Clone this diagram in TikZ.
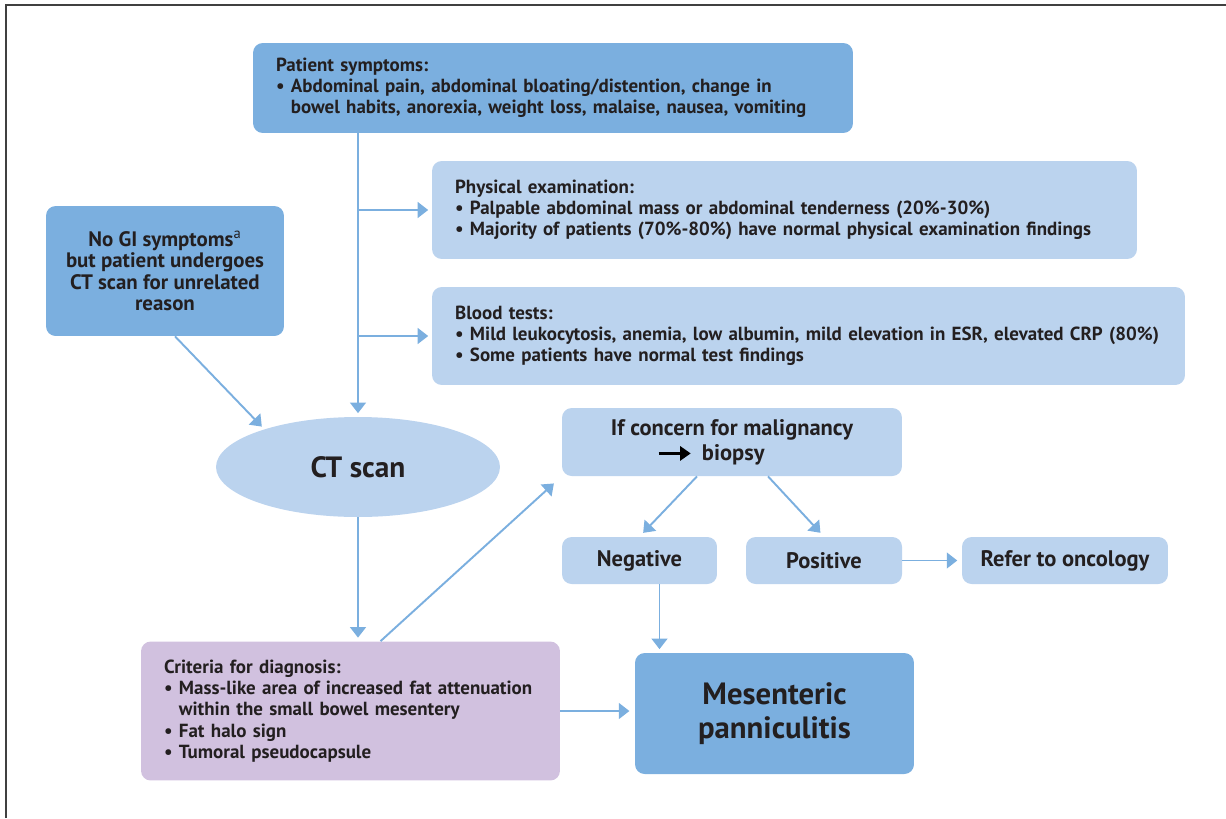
\documentclass[tikz,border=0pt]{standalone}
\usepackage{fontspec}
\setmainfont{PT Sans}
\usepackage{xcolor}
\definecolor{colMid}{HTML}{7BAFDF}
\definecolor{colLight}{HTML}{BBD3EE}
\definecolor{colCrit}{HTML}{D1C1DF}
\definecolor{colArr}{HTML}{7BAFDF}
\definecolor{colText}{HTML}{231F20}
\definecolor{colFrame}{HTML}{404040}
\usepackage{tikz}
\usetikzlibrary{arrows.meta, positioning, calc, shapes.geometric}
\newcommand{\bodyfont}{\bfseries\fontsize{10.8}{12.1}\selectfont}
\newcommand{\hang}{\hphantom{•\ }}
\tikzset{
	listbox/.style={rounded corners=5.5pt, fill=#1, align=left, inner xsep=0.46cm, inner ysep=0pt, font=\bodyfont, text=colText},
	centerbox/.style={rounded corners=5.5pt, fill=#1, align=center, inner sep=0pt, font=\bfseries\fontsize{12.8}{14.2}\selectfont, text=colText},
	flowarr/.style={-{Triangle[length=6pt, width=9pt]}, line width=1.1pt, colArr},
}

\begin{document}
\begin{tikzpicture}[x=0.02cm, y=-0.02cm]
	\useasboundingbox (0,0) rectangle (1226,818);
	% Frame
	\draw[colFrame, line width=1pt] (6,818) -- (6,5) -- (1226,5);

	% Patient symptoms
	\node[listbox=colMid, text width=11.08cm, minimum height=1.8cm] (sym) at (553,88)
		{Patient symptoms:\\
		• Abdominal pain, abdominal bloating/distention, change in\\
		\hang bowel habits, anorexia, weight loss, malaise, nausea, vomiting};

	% Examination and blood tests
	\node[listbox=colLight, text width=13.18cm, minimum height=1.96cm] (phys) at (784.5,210)
		{Physical examination:\\
		• Palpable abdominal mass or abdominal tenderness (20\%-30\%)\\
		• Majority of patients (70\%-80\%) have normal physical examination findings};
	\node[listbox=colLight, text width=14.14cm, minimum height=1.96cm] (blood) at (808.5,336)
		{Blood tests:\\
		• Mild leukocytosis, anemia, low albumin, mild elevation in ESR, elevated CRP (80\%)\\
		• Some patients have normal test findings};

	% Incidental finding
	\node[centerbox=colMid, minimum width=4.76cm, minimum height=2.6cm,
		font=\bfseries\fontsize{11.9}{12.2}\selectfont] (nogi) at (165,271)
		{No GI symptoms\textsuperscript{\mdseries a}\\but patient undergoes\\CT scan for unrelated\\reason};

	% CT scan
	\node[ellipse, fill=colLight, minimum width=5.68cm, minimum height=2cm, inner sep=0pt,
		font=\bfseries\fontsize{16.7}{19}\selectfont, text=colText] (ct) at (358,467) {CT scan};

	% Criteria for diagnosis
	\node[listbox=colCrit, text width=7.46cm, minimum height=2.78cm] (crit) at (350.5,711)
		{Criteria for diagnosis:\\
		• Mass-like area of increased fat attenuation\\
		\hang within the small bowel mesentery\\
		• Fat halo sign\\
		• Tumoral pseudocapsule};

	% Biopsy branch
	\node[centerbox=colLight, minimum width=6.8cm, minimum height=1.36cm] (mal) at (732,442)
		{If concern for malignancy\\
		\tikz[baseline=-0.6ex]\draw[black, line width=1.4pt, -{Triangle[length=6pt, width=8pt]}] (0,0) -- (0.64cm,0);\hspace{0.2cm}biopsy\hspace*{0.84cm}};
	\node[centerbox=colLight, minimum width=3.1cm, minimum height=0.94cm] (neg) at (639.5,560.5) {Negative};
	\node[centerbox=colLight, minimum width=3.12cm, minimum height=0.94cm] (pos) at (824,560.5) {Positive};
	\node[centerbox=colLight, minimum width=4.12cm, minimum height=0.94cm] (onc) at (1065,560.5) {Refer to oncology};

	% Diagnosis
	\node[centerbox=colMid, minimum width=5.58cm, minimum height=2.42cm,
		font=\bfseries\fontsize{17.5}{19.5}\selectfont] (mes) at (774.5,713.5) {Mesenteric\\panniculitis};

	% Connectors
	\draw[flowarr, shorten >=2pt] (ct.north |- sym.south) -- (ct.north);
	\draw[flowarr, shorten >=2pt] (ct.north |- phys.west) -- (phys.west);
	\draw[flowarr, shorten >=2pt] (ct.north |- blood.west) -- (blood.west);
	\draw[flowarr, shorten >=2pt] ([xshift=0.2cm]nogi.south) -- (ct.158);
	\draw[flowarr, shorten >=2pt] (ct.south) -- (ct.south |- crit.north);
	\draw[flowarr, shorten >=6pt] ([xshift=0.6cm]crit.north) -- (mal.south west);
	\draw[flowarr, shorten >=3pt] ([xshift=-0.7cm]mal.south) -- (neg.north);
	\draw[flowarr, shorten >=3pt] ([xshift=0.72cm]mal.south) -- (pos.north);
	\draw[flowarr, shorten >=2.5pt] (pos.east) -- (onc.west);
	\draw[flowarr, shorten >=2pt] ([xshift=0.4cm]neg.south) -- ([xshift=0.4cm]neg.south |- mes.north);
	\draw[flowarr, shorten >=3pt] (crit.east) -- (crit.east -| mes.west);
\end{tikzpicture}
\end{document}
